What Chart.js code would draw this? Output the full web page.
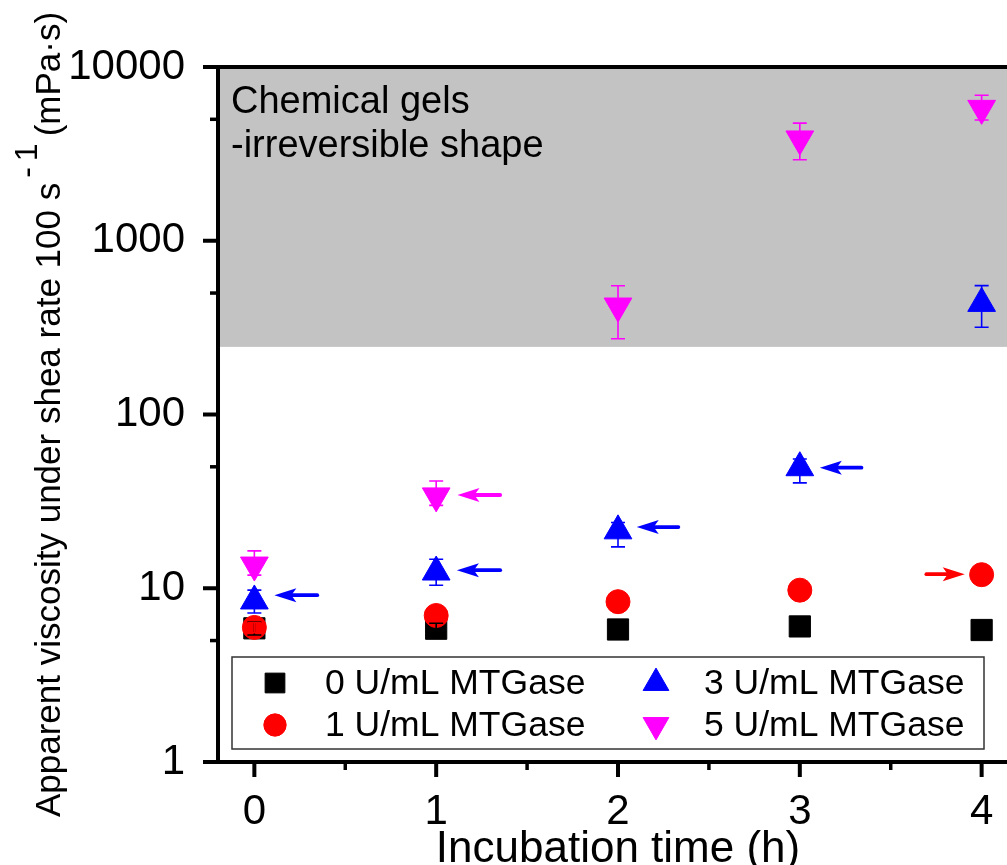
<!DOCTYPE html>
<html><head><meta charset="utf-8">
<script src="https://cdn.jsdelivr.net/npm/chart.js@4.4.1/dist/chart.umd.min.js"></script>
<style>html,body{margin:0;padding:0;background:#fff;overflow:hidden;width:1007px;height:865px}canvas{display:block}</style>
</head><body>
<canvas id="c" width="1025" height="865" style="width:1025px;height:865px"></canvas>
<script>
const FONT = "'Liberation Sans', Arial, Helvetica, sans-serif";

// ---- data ----
const times = [0, 1, 2, 3, 4];
const seriesLabels = ['0 U/mL MTGase', '1 U/mL MTGase', '3 U/mL MTGase', '5 U/mL MTGase'];
const seriesColors = ['#000000', '#ff0000', '#0000ff', '#ff00ff'];
const visc0 = [5.88, 5.85, 5.79, 6.03, 5.75];
const visc1 = [5.95, 6.97, 8.37, 9.75, 11.97];
const visc3 = [8.45, 12.4, 21.4, 49.4, 436];
const visc5 = [13.6, 34.0, 421, 3853, 5780];
const errUp0 = [0.5, 0.44, 0.3, 0.3, 0.3];
const errDn0 = [0.5, 0.4, 0.3, 0.3, 0.3];
const errUp1 = [0.4, 0.4, 0.4, 0.4, 0.4];
const errDn1 = [0.4, 0.4, 0.4, 0.4, 0.4];
const errUp3 = [1.3, 2.3, 2.5, 6, 116];
const errDn3 = [1.25, 2.0, 4.1, 9, 118];
const errUp5 = [2.8, 7.4, 130, 900, 1100];
const errDn5 = [1.7, 4, 148, 930, 830];
const xTicks = [0, 1, 2, 3, 4];
const xMinorTicks = [0.5, 1.5, 2.5, 3.5];
const yTicks = [1, 10, 100, 1000, 10000];
const yMinorTicks = [5, 50, 500, 5000];
const gelThreshold = 245;
const annotationLines = ['Chemical gels', '-irreversible shape'];
const xTitle = 'Incubation time (h)';
const yTitleMain = 'Apparent viscosity under shea rate 100 s';
const yTitleSup = '-1';
const yTitleUnit = '(mPa\u00b7s)';
// arrows (data units): series index, tail x, tip x, y value
const arrowSeries = [2, 3, 2, 2, 2, 1];
const arrowTailX = [0.346, 1.352, 1.352, 2.332, 3.339, 3.696];
const arrowTipX = [0.11, 1.117, 1.114, 2.103, 3.11, 3.907];
const arrowY = [9.12, 34.4, 12.7, 22.5, 49.4, 12.05];

const values = [visc0, visc1, visc3, visc5];
const errUp = [errUp0, errUp1, errUp3, errUp5];
const errDn = [errDn0, errDn1, errDn3, errDn5];
const styles = [
  {pointStyle: 'rect', radius: 15, rotation: 0},
  {pointStyle: 'circle', radius: 12, rotation: 0},
  {pointStyle: 'triangle', radius: 16, rotation: 0},
  {pointStyle: 'triangle', radius: 16, rotation: 180}
];

const datasets = values.map((vals, s) => ({
  label: seriesLabels[s],
  data: times.map((t, i) => ({x: t, y: vals[i]})),
  showLine: false,
  backgroundColor: seriesColors[s],
  borderColor: seriesColors[s],
  pointStyle: styles[s].pointStyle,
  pointRadius: styles[s].radius,
  pointRotation: styles[s].rotation,
  pointBorderWidth: 1,
  order: 4 - s,
  clip: false
}));

const framePlugin = {
  id: 'frame',
  beforeDatasetsDraw(chart) {
    const {ctx, chartArea: a, scales: {x, y}} = chart;
    ctx.save();
    const gy = y.getPixelForValue(gelThreshold);
    ctx.fillStyle = '#c3c3c3';
    ctx.fillRect(a.left, a.top, a.right - a.left, gy - a.top);
    ctx.strokeStyle = '#000';
    ctx.lineWidth = 4;
    ctx.strokeRect(a.left, a.top, a.right - a.left, a.bottom - a.top);
    yTicks.forEach(v => { const p = y.getPixelForValue(v); ctx.beginPath(); ctx.moveTo(a.left, p); ctx.lineTo(a.left - 15, p); ctx.stroke(); });
    ctx.lineWidth = 3.5;
    yMinorTicks.forEach(v => { const p = y.getPixelForValue(v); ctx.beginPath(); ctx.moveTo(a.left, p); ctx.lineTo(a.left - 8, p); ctx.stroke(); });
    ctx.lineWidth = 4;
    xTicks.forEach(v => { const p = x.getPixelForValue(v); ctx.beginPath(); ctx.moveTo(p, a.bottom); ctx.lineTo(p, a.bottom + 15); ctx.stroke(); });
    ctx.lineWidth = 3.5;
    xMinorTicks.forEach(v => { const p = x.getPixelForValue(v); ctx.beginPath(); ctx.moveTo(p, a.bottom); ctx.lineTo(p, a.bottom + 8); ctx.stroke(); });
    ctx.restore();
  },
  afterDatasetsDraw(chart) {
    const {ctx, chartArea: a, scales: {x, y}} = chart;
    ctx.save();
    // error bars
    chart.data.datasets.forEach((ds, s) => {
      ctx.strokeStyle = seriesColors[s];
      ctx.lineWidth = 1.6;
      ds.data.forEach((pt, i) => {
        const px = x.getPixelForValue(pt.x);
        const hi = y.getPixelForValue(pt.y + errUp[s][i]);
        const lo = y.getPixelForValue(pt.y - errDn[s][i]);
        ctx.beginPath();
        ctx.moveTo(px, hi); ctx.lineTo(px, lo);
        ctx.moveTo(px - 7, hi); ctx.lineTo(px + 7, hi);
        ctx.moveTo(px - 7, lo); ctx.lineTo(px + 7, lo);
        ctx.stroke();
      });
    });
    // arrows
    arrowSeries.forEach((s, i) => {
      const col = seriesColors[s];
      const x0 = x.getPixelForValue(arrowTailX[i]);
      const x1 = x.getPixelForValue(arrowTipX[i]);
      const py = y.getPixelForValue(arrowY[i]);
      const dir = Math.sign(x1 - x0);
      const headLen = 22, halfW = 7, notch = 5;
      ctx.strokeStyle = col; ctx.fillStyle = col;
      ctx.lineWidth = 3.8; ctx.lineCap = 'round';
      ctx.beginPath(); ctx.moveTo(x0, py); ctx.lineTo(x1 - dir * (headLen - notch), py); ctx.stroke();
      ctx.beginPath();
      ctx.moveTo(x1, py);
      ctx.lineTo(x1 - dir * headLen, py - halfW);
      ctx.lineTo(x1 - dir * (headLen - notch), py);
      ctx.lineTo(x1 - dir * headLen, py + halfW);
      ctx.closePath(); ctx.fill();
    });
    ctx.lineCap = 'butt';
    // annotation
    ctx.fillStyle = '#000';
    ctx.font = '38px ' + FONT;
    ctx.textAlign = 'left'; ctx.textBaseline = 'alphabetic';
    annotationLines.forEach((t, i) => ctx.fillText(t, a.left + 13, a.top + 46 + i * 44));
    // legend
    const bl = a.left + 14, bt = a.bottom - 105, bw = 752, bh = 92;
    ctx.fillStyle = '#fff';
    ctx.fillRect(bl, bt, bw, bh);
    ctx.strokeStyle = '#333'; ctx.lineWidth = 1.5;
    ctx.strokeRect(bl, bt, bw, bh);
    const order = [0, 1, 2, 3];
    const colMarker = [43, 424], colText = [93, 472], rowY = [26, 68];
    ctx.font = '35.5px ' + FONT; ctx.textBaseline = 'middle';
    order.forEach((s, k) => {
      const c = Math.floor(k / 2), r = k % 2;
      const mx = bl + colMarker[c], my = bt + rowY[r];
      ctx.fillStyle = seriesColors[s]; ctx.strokeStyle = seriesColors[s]; ctx.lineWidth = 1;
      Chart.helpers.drawPoint(ctx, {pointStyle: styles[s].pointStyle, radius: styles[s].radius * 0.93, rotation: styles[s].rotation, borderWidth: 1}, mx, my);
      ctx.fillStyle = '#000';
      ctx.fillText(seriesLabels[s], bl + colText[c], my + 1);
    });
    ctx.restore();
  },
  afterDraw(chart) {
    const {ctx, chartArea: a} = chart;
    ctx.save();
    ctx.fillStyle = '#000';
    ctx.font = '44px ' + FONT;
    ctx.textAlign = 'center'; ctx.textBaseline = 'alphabetic';
    ctx.fillText(xTitle, (a.left + a.right) / 2, 862);
    const cy = (a.top + a.bottom) / 2;
    ctx.translate(60, cy);
    ctx.rotate(-Math.PI / 2);
    ctx.textAlign = 'left';
    const mainFont = '35px ' + FONT, supFont = '32px ' + FONT;
    ctx.font = mainFont; const wMain = ctx.measureText(yTitleMain).width; const wUnit = ctx.measureText(yTitleUnit).width;
    ctx.font = supFont; const wMinus = ctx.measureText(yTitleSup[0]).width; const wOne = ctx.measureText(yTitleSup.slice(1)).width;
    const gapSup = 5, gapIn = 6, gapUnit = 7;
    const total = wMain + gapSup + wMinus + gapIn + wOne + gapUnit + wUnit;
    let pos = -total / 2;
    ctx.font = mainFont; ctx.fillText(yTitleMain, pos, 0); pos += wMain + gapSup;
    ctx.font = supFont; ctx.fillText(yTitleSup[0], pos, -23); pos += wMinus + gapIn;
    ctx.fillText(yTitleSup.slice(1), pos, -23); pos += wOne + gapUnit;
    ctx.font = mainFont; ctx.fillText(yTitleUnit, pos, 0);
    ctx.restore();
  }
};

new Chart(document.getElementById('c'), {
  type: 'scatter',
  data: {datasets},
  options: {
    responsive: false,
    animation: false,
    devicePixelRatio: 1,
    layout: {autoPadding: false, padding: {top: 67, right: 7, left: 0, bottom: 0}},
    plugins: {legend: {display: false}, tooltip: {enabled: false}, title: {display: false}},
    scales: {
      x: {
        type: 'linear', min: -0.2, max: 4.2,
        grid: {display: false}, border: {display: false},
        afterBuildTicks: sc => { sc.ticks = xTicks.map(v => ({value: v})); },
        afterFit: sc => { sc.height = 103; },
        ticks: {color: '#000', font: {family: FONT, size: 42}, padding: 17, maxRotation: 0, callback: v => String(v)}
      },
      y: {
        type: 'logarithmic', min: 1, max: 10000,
        grid: {display: false}, border: {display: false},
        afterBuildTicks: sc => { sc.ticks = yTicks.map(v => ({value: v})); },
        afterFit: sc => { sc.width = 218; },
        ticks: {color: '#000', font: {family: FONT, size: 42}, padding: 25, callback: v => String(v)}
      }
    }
  },
  plugins: [framePlugin]
});
</script>
</body></html>
